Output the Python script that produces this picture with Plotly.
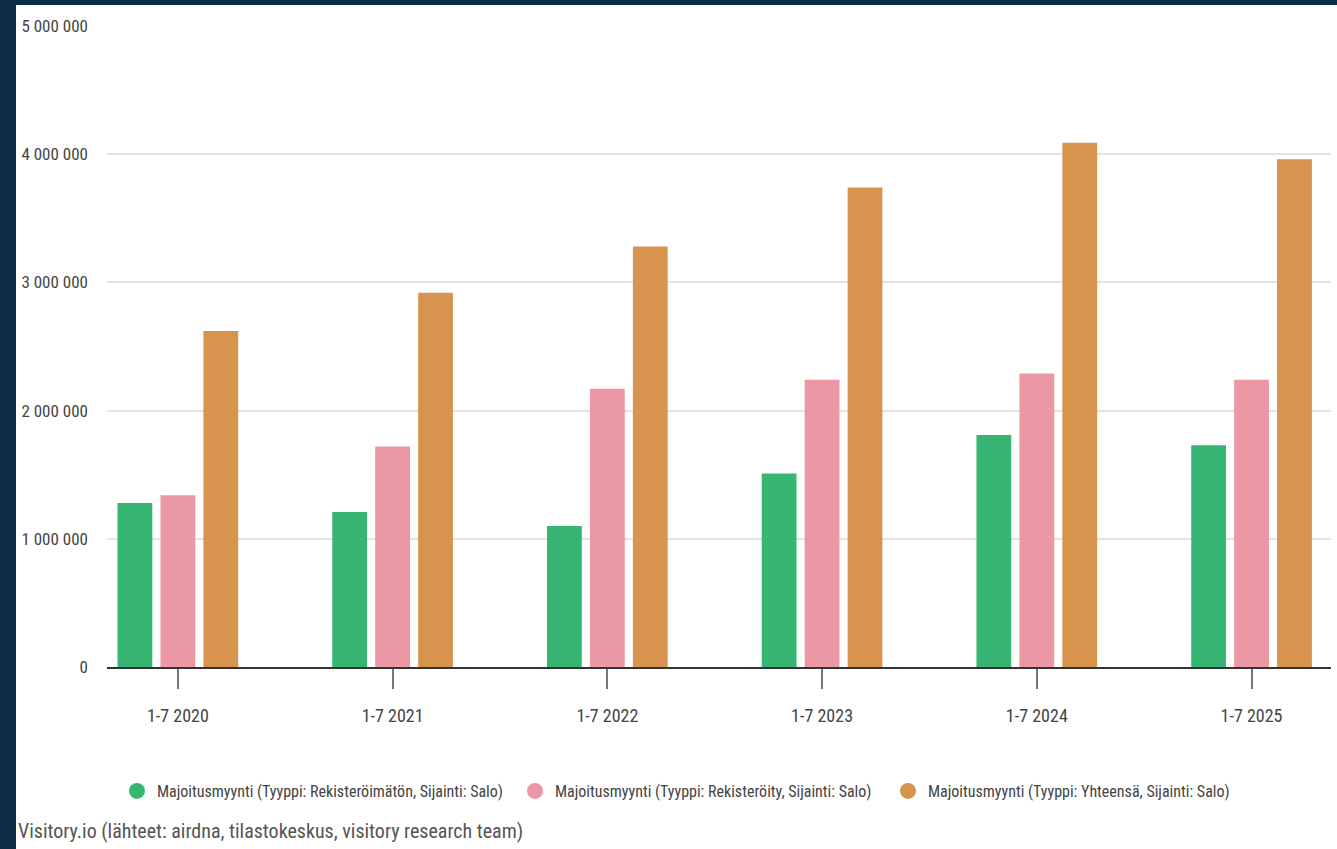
import plotly.graph_objects as go

categories = ["1-7 2020", "1-7 2021", "1-7 2022", "1-7 2023", "1-7 2024", "1-7 2025"]
unregistered = [1280000, 1210000, 1100000, 1510000, 1810000, 1730000]
registered = [1340000, 1720000, 2170000, 2240000, 2290000, 2240000]
total = [2620000, 2920000, 3280000, 3740000, 4090000, 3960000]

series_names = [
    "Majoitusmyynti (Tyyppi: Rekisteröimätön, Sijainti: Salo)",
    "Majoitusmyynti (Tyyppi: Rekisteröity, Sijainti: Salo)",
    "Majoitusmyynti (Tyyppi: Yhteensä, Sijainti: Salo)",
]
colors = ["#37b673", "#eb97a4", "#d7944f"]
source_text = "Visitory.io (lähteet: airdna, tilastokeskus, visitory research team)"
y_ticks = [0, 1000000, 2000000, 3000000, 4000000, 5000000]

FONT = "Liberation Sans Narrow, Roboto Condensed, Arial Narrow, Liberation Sans, sans-serif"

W, H = 1337, 849
L, R, T, B = 107, 6, 26, 182
pw = W - L - R
ph = H - T - B

def px(x):
    return (x - L) / pw

def py(y):
    return (H - B - y) / ph

legend_names = ["legend", "legend2", "legend3"]
legend_x = [117, 515, 888]

fig = go.Figure()
for name, vals, col in zip(series_names, [unregistered, registered, total], colors):
    fig.add_trace(go.Bar(x=categories, y=vals, name=name, marker=dict(color=col, line=dict(width=0)),
                         showlegend=False))
for name, col, lg in zip(series_names, colors, legend_names):
    fig.add_trace(go.Scatter(x=[None], y=[None], mode="markers", name=name, legend=lg,
                             marker=dict(color=col, size=16, symbol="circle")))

fig.add_shape(type="rect", xref="paper", yref="paper", x0=px(16), x1=px(1345), y0=py(860), y1=py(5),
              fillcolor="white", line=dict(width=0), layer="below")

fig.add_annotation(text=source_text, xref="paper", yref="paper", x=px(16), y=py(831),
                   xanchor="left", yanchor="middle", showarrow=False,
                   font=dict(family=FONT, size=20, color="#555555"))

legend_common = dict(orientation="h", yanchor="middle", xanchor="left", bgcolor="rgba(0,0,0,0)",
                     font=dict(family=FONT, size=16, color="#444444"))

fig.update_layout(
    width=W, height=H,
    margin=dict(l=L, r=R, t=T, b=B, pad=0),
    paper_bgcolor="#0d2d45",
    plot_bgcolor="white",
    separators=", ",
    barmode="group",
    bargap=0.4,
    bargroupgap=0.19,
    font=dict(family=FONT, size=16, color="#444444"),
    legend=dict(x=px(legend_x[0]), y=py(791), **legend_common),
    legend2=dict(x=px(legend_x[1]), y=py(791), **legend_common),
    legend3=dict(x=px(legend_x[2]), y=py(791), **legend_common),
    xaxis=dict(range=[-0.33, 5.37], showline=True, linecolor="#333333", linewidth=2,
               ticks="outside", ticklen=20, tickwidth=2, tickcolor="#777777",
               showgrid=False, ticklabelstandoff=11,
               tickfont=dict(family=FONT, size=18, color="#444444")),
    yaxis=dict(range=[0, 5000000], tickvals=y_ticks,
               tickformat=",d", showgrid=True, gridcolor="#e3e3e3", gridwidth=2,
               zeroline=False, showline=False, ticklabelstandoff=18,
               tickfont=dict(family=FONT, size=17, color="#444444")),
)

fig.write_html("out.html", config={"displayModeBar": False},
               post_script="document.body.style.margin='0';document.body.style.background='#0d2d45';")
